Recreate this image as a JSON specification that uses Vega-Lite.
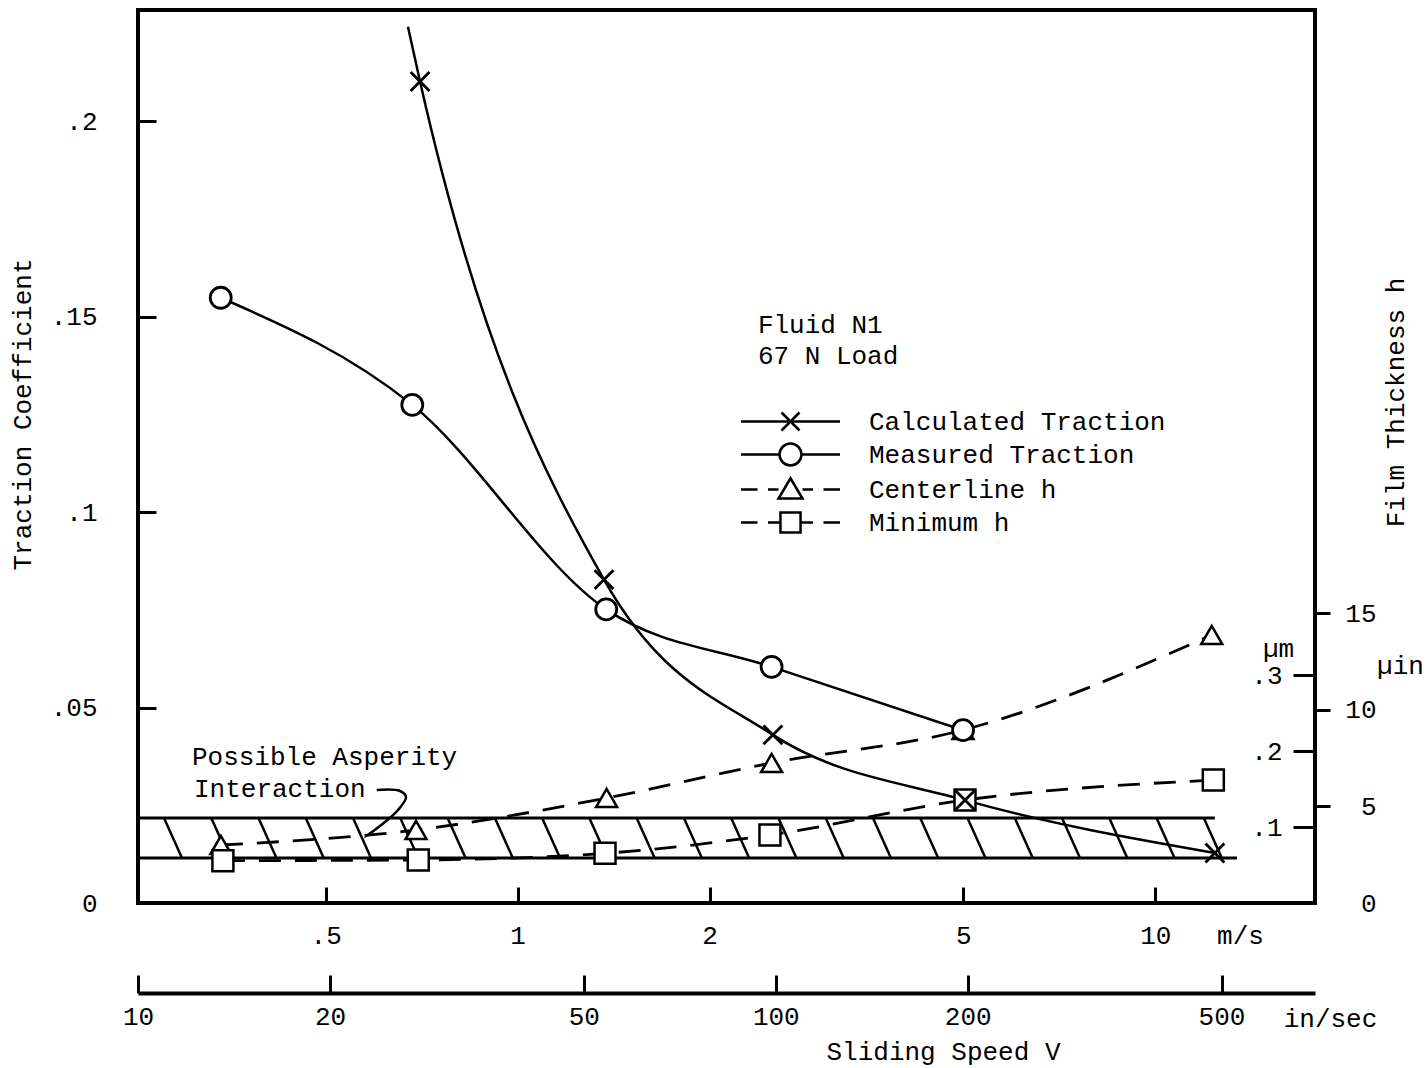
{
  "$schema": "https://vega.github.io/schema/vega-lite/v6.json",
  "width": 1177,
  "height": 893,
  "autosize": {"type": "none"},
  "padding": {"left": 138, "top": 10, "right": 113, "bottom": 165},
  "background": "white",
  "config": {
    "font": "Liberation Mono",
    "view": {"stroke": "black", "strokeWidth": 4},
    "axis": {
      "grid": false, "domain": false,
      "labelFont": "Liberation Mono", "labelFontSize": 26, "labelColor": "black",
      "titleFont": "Liberation Mono", "titleFontSize": 26, "titleFontWeight": "normal", "titleColor": "black",
      "tickColor": "black", "tickWidth": 3,
      "labelFlush": false, "labelOverlap": false, "labelBound": false
    }
  },
  "datasets": {
    "traction": [
      {"series": "Calculated Traction", "v": 0.673, "coef": 0.2241, "marker": false},
      {"series": "Calculated Traction", "v": 0.703, "coef": 0.2101, "marker": true},
      {"series": "Calculated Traction", "v": 1.366, "coef": 0.0827, "marker": true},
      {"series": "Calculated Traction", "v": 2.514, "coef": 0.0430, "marker": true},
      {"series": "Calculated Traction", "v": 5.03, "coef": 0.0263, "marker": true},
      {"series": "Calculated Traction", "v": 12.4, "coef": 0.0128, "marker": true},
      {"series": "Measured Traction", "v": 0.3423, "coef": 0.1548, "marker": true},
      {"series": "Measured Traction", "v": 0.6836, "coef": 0.1274, "marker": true},
      {"series": "Measured Traction", "v": 1.377, "coef": 0.0751, "marker": true},
      {"series": "Measured Traction", "v": 2.502, "coef": 0.0604, "marker": true},
      {"series": "Measured Traction", "v": 4.994, "coef": 0.0442, "marker": true}
    ],
    "film": [
      {"series": "Centerline h", "v": 0.3425, "h_um": 0.0763},
      {"series": "Centerline h", "v": 0.6929, "h_um": 0.0961},
      {"series": "Centerline h", "v": 1.379, "h_um": 0.1382},
      {"series": "Centerline h", "v": 2.502, "h_um": 0.1842},
      {"series": "Centerline h", "v": 4.994, "h_um": 0.2276},
      {"series": "Centerline h", "v": 12.26, "h_um": 0.3526},
      {"series": "Minimum h", "v": 0.345, "h_um": 0.0557},
      {"series": "Minimum h", "v": 0.6985, "h_um": 0.0566},
      {"series": "Minimum h", "v": 1.371, "h_um": 0.0654},
      {"series": "Minimum h", "v": 2.487, "h_um": 0.0895},
      {"series": "Minimum h", "v": 5.03, "h_um": 0.1355},
      {"series": "Minimum h", "v": 12.33, "h_um": 0.1618}
    ],
    "band": [
      {"edge": "top", "v1": 0.2539, "v2": 12.40, "coef": 0.02174},
      {"edge": "bottom", "v1": 0.2539, "v2": 13.43, "coef": 0.01151}
    ],
    "hatch": [
      {"v_top": 0.2789, "v_bottom": 0.2976, "coef_top": 0.02174, "coef_bottom": 0.01151},
      {"v_top": 0.3308, "v_bottom": 0.3530, "coef_top": 0.02174, "coef_bottom": 0.01151},
      {"v_top": 0.3923, "v_bottom": 0.4186, "coef_top": 0.02174, "coef_bottom": 0.01151},
      {"v_top": 0.4653, "v_bottom": 0.4965, "coef_top": 0.02174, "coef_bottom": 0.01151},
      {"v_top": 0.5519, "v_bottom": 0.5889, "coef_top": 0.02174, "coef_bottom": 0.01151},
      {"v_top": 0.6546, "v_bottom": 0.6986, "coef_top": 0.02174, "coef_bottom": 0.01151},
      {"v_top": 0.7765, "v_bottom": 0.8286, "coef_top": 0.02174, "coef_bottom": 0.01151},
      {"v_top": 0.9210, "v_bottom": 0.9828, "coef_top": 0.02174, "coef_bottom": 0.01151},
      {"v_top": 1.0924, "v_bottom": 1.1657, "coef_top": 0.02174, "coef_bottom": 0.01151},
      {"v_top": 1.2956, "v_bottom": 1.3826, "coef_top": 0.02174, "coef_bottom": 0.01151},
      {"v_top": 1.5368, "v_bottom": 1.6399, "coef_top": 0.02174, "coef_bottom": 0.01151},
      {"v_top": 1.8228, "v_bottom": 1.9451, "coef_top": 0.02174, "coef_bottom": 0.01151},
      {"v_top": 2.1620, "v_bottom": 2.3070, "coef_top": 0.02174, "coef_bottom": 0.01151},
      {"v_top": 2.5643, "v_bottom": 2.7364, "coef_top": 0.02174, "coef_bottom": 0.01151},
      {"v_top": 3.0415, "v_bottom": 3.2456, "coef_top": 0.02174, "coef_bottom": 0.01151},
      {"v_top": 3.6076, "v_bottom": 3.8496, "coef_top": 0.02174, "coef_bottom": 0.01151},
      {"v_top": 4.2789, "v_bottom": 4.5661, "coef_top": 0.02174, "coef_bottom": 0.01151},
      {"v_top": 5.0752, "v_bottom": 5.4158, "coef_top": 0.02174, "coef_bottom": 0.01151},
      {"v_top": 6.0197, "v_bottom": 6.4237, "coef_top": 0.02174, "coef_bottom": 0.01151},
      {"v_top": 7.1400, "v_bottom": 7.6191, "coef_top": 0.02174, "coef_bottom": 0.01151},
      {"v_top": 8.4688, "v_bottom": 9.0370, "coef_top": 0.02174, "coef_bottom": 0.01151},
      {"v_top": 10.045, "v_bottom": 10.719, "coef_top": 0.02174, "coef_bottom": 0.01151},
      {"v_top": 11.914, "v_bottom": 12.714, "coef_top": 0.02174, "coef_bottom": 0.01151}
    ],
    "notes": [
      {"text": "Fluid N1", "v": 2.381, "coef": 0.1478},
      {"text": "67 N Load", "v": 2.381, "coef": 0.1399},
      {"text": "Possible Asperity", "v": 0.3085, "coef": 0.03734},
      {"text": "Interaction", "v": 0.3108, "coef": 0.02916}
    ],
    "arrow": [
      {"i": 1, "v": 0.6012, "coef": 0.0289},
      {"i": 2, "v": 0.6539, "coef": 0.02865},
      {"i": 3, "v": 0.6683, "coef": 0.02711},
      {"i": 4, "v": 0.6493, "coef": 0.02379},
      {"i": 5, "v": 0.6194, "coef": 0.02072},
      {"i": 6, "v": 0.5824, "coef": 0.01739}
    ]
  },
  "resolve": {
    "scale": {"y": "independent", "shape": "independent"},
    "axis": {"x": "independent", "y": "independent"}
  },
  "layer": [
    {
      "data": {"name": "band"},
      "mark": {"type": "rule", "color": "black", "strokeWidth": 3},
      "encoding": {
        "x": {
          "field": "v1", "type": "quantitative",
          "scale": {"type": "log", "domain": [0.2539, 17.8], "nice": false},
          "axis": {
            "orient": "bottom", "values": [0.5, 1, 2, 5, 10],
            "labelExpr": "datum.value == 0.5 ? '.5' : format(datum.value, 'd')",
            "tickSize": -16, "labelPadding": 48, "labelBaseline": "middle",
            "title": "m/s", "titleX": 1102, "titleY": 32, "titleBaseline": "middle", "titleAlign": "center", "titleAngle": 0
          }
        },
        "x2": {"field": "v2"},
        "y": {
          "field": "coef", "type": "quantitative",
          "scale": {"domain": [0, 0.2284], "nice": false, "zero": false},
          "axis": {
            "orient": "left", "values": [0, 0.05, 0.1, 0.15, 0.2],
            "labelExpr": "datum.value == 0 ? '0' : replace(format(datum.value, '.2~f'), '0.', '.')",
            "tickSize": -18, "labelPadding": 59, "labelBaseline": "middle",
            "title": "Traction Coefficient", "titleX": -116, "titleY": 404, "titleAngle": 270,
            "titleBaseline": "middle", "titleAlign": "center"
          }
        }
      }
    },
    {
      "data": {"name": "hatch"},
      "mark": {"type": "rule", "color": "black", "strokeWidth": 2.5},
      "encoding": {
        "x": {
          "field": "v_top", "type": "quantitative",
          "scale": {"type": "log", "domain": [0.2539, 17.8], "nice": false},
          "axis": {
            "orient": "bottom", "offset": 90, "domain": true, "domainWidth": 4, "domainColor": "black",
            "values": [0.254, 0.508, 1.27, 2.54, 5.08, 12.7],
            "labelExpr": "format(datum.value * 39.37, 'd')",
            "tickSize": -18, "labelPadding": 41, "labelBaseline": "middle",
            "title": "in/sec", "titleX": 1192, "titleY": 25, "titleBaseline": "middle", "titleAlign": "center", "titleAngle": 0
          }
        },
        "x2": {"field": "v_bottom"},
        "y": {"field": "coef_top", "type": "quantitative", "scale": {"domain": [0, 0.2284], "nice": false, "zero": false}, "axis": null},
        "y2": {"field": "coef_bottom"}
      }
    },
    {
      "data": {"name": "traction"},
      "mark": {"type": "line", "color": "black", "strokeWidth": 2.5, "interpolate": "monotone"},
      "encoding": {
        "x": {
          "field": "v", "type": "quantitative",
          "scale": {"type": "log", "domain": [0.2539, 17.8], "nice": false},
          "axis": {
            "orient": "bottom", "offset": 90, "ticks": false, "labels": false, "domain": false,
            "title": "Sliding Speed V", "titleX": 805, "titleY": 58, "titleBaseline": "middle", "titleAlign": "center", "titleAngle": 0
          }
        },
        "y": {"field": "coef", "type": "quantitative", "scale": {"domain": [0, 0.2284], "nice": false, "zero": false}, "axis": null},
        "detail": {"field": "series"}
      }
    },
    {
      "data": {"name": "film"},
      "mark": {"type": "line", "color": "black", "strokeWidth": 2.8, "strokeDash": [22, 14], "interpolate": "monotone"},
      "encoding": {
        "x": {"field": "v", "type": "quantitative", "scale": {"type": "log", "domain": [0.2539, 17.8], "nice": false}, "axis": null},
        "y": {
          "field": "h_um", "type": "quantitative",
          "scale": {"domain": [0, 1.175], "nice": false, "zero": false},
          "axis": {
            "orient": "right", "values": [0.1, 0.2, 0.3],
            "labelExpr": "replace(format(datum.value, '.1f'), '0.', '.')",
            "tickSize": -22, "labelPadding": -11, "labelAlign": "right", "labelBaseline": "middle",
            "title": "µm", "titleX": -37, "titleY": 638, "titleAngle": 0, "titleBaseline": "middle", "titleAlign": "center"
          }
        },
        "detail": {"field": "series"}
      }
    },
    {
      "data": {"name": "film"},
      "mark": {"type": "point", "filled": true, "fill": "white", "stroke": "black", "strokeWidth": 2.5, "size": 440, "opacity": 1},
      "encoding": {
        "x": {"field": "v", "type": "quantitative", "scale": {"type": "log", "domain": [0.2539, 17.8], "nice": false}, "axis": null},
        "y": {
          "field": "h_um", "type": "quantitative",
          "scale": {"domain": [0, 1.175], "nice": false, "zero": false},
          "axis": {
            "orient": "right", "values": [0, 0.127, 0.254, 0.381],
            "labelExpr": "format(datum.value / 0.0254, 'd')",
            "tickSize": 15, "tickOpacity": {"condition": {"test": "datum.value == 0", "value": 0}, "value": 1},
            "labelPadding": 46, "labelAlign": "right", "labelBaseline": "middle",
            "title": "µin", "titleX": 85, "titleY": 655, "titleAngle": 0, "titleBaseline": "middle", "titleAlign": "center"
          }
        },
        "shape": {
          "field": "series", "type": "nominal",
          "scale": {"domain": ["Centerline h", "Minimum h"], "range": ["triangle-up", "square"]},
          "legend": null
        }
      }
    },
    {
      "data": {"name": "traction"},
      "transform": [{"filter": "datum.marker"}],
      "mark": {"type": "point", "filled": true, "fill": "white", "stroke": "black", "strokeWidth": 2.8, "size": 440, "opacity": 1},
      "encoding": {
        "x": {"field": "v", "type": "quantitative", "scale": {"type": "log", "domain": [0.2539, 17.8], "nice": false}, "axis": null},
        "y": {"field": "coef", "type": "quantitative", "scale": {"domain": [0, 0.2284], "nice": false, "zero": false}, "axis": null},
        "shape": {
          "field": "series", "type": "nominal",
          "scale": {"domain": ["Calculated Traction", "Measured Traction"], "range": ["M-0.9,-0.9L0.9,0.9M-0.9,0.9L0.9,-0.9", "circle"]},
          "legend": null
        }
      }
    },
    {
      "data": {"name": "film"},
      "transform": [{"filter": "datum.v < 0"}],
      "mark": {"type": "point", "filled": true, "fill": "white", "stroke": "black", "strokeWidth": 2.5, "opacity": 1},
      "encoding": {
        "x": {"field": "v", "type": "quantitative", "scale": {"type": "log", "domain": [0.2539, 17.8], "nice": false}, "axis": null},
        "y": {
          "field": "h_um", "type": "quantitative",
          "scale": {"domain": [0, 1.175], "nice": false, "zero": false},
          "axis": {
            "orient": "right", "ticks": false, "labels": false, "domain": false,
            "title": "Film Thickness h", "titleX": 80, "titleY": 392, "titleAngle": 270, "titleBaseline": "middle", "titleAlign": "center"
          }
        },
        "shape": {
          "field": "series", "type": "nominal",
          "scale": {
            "domain": ["Calculated Traction", "Measured Traction", "Centerline h", "Minimum h"],
            "range": [
              "M-3.3,0L3.3,0M-0.6,-0.6L0.6,0.6M-0.6,0.6L0.6,-0.6",
              "M-3.3,0L-0.73,0M0.73,0L3.3,0M-0.73,0A0.73,0.73,0,1,1,0.73,0A0.73,0.73,0,1,1,-0.73,0Z",
              "M-3.3,0L-2.2,0M-1.5,0L-0.8,0M0.8,0L1.5,0M2.2,0L3.3,0M0,-0.75L0.8,0.6L-0.8,0.6Z",
              "M-3.3,0L-2.2,0M-1.5,0L-0.67,0M0.67,0L1.5,0M2.2,0L3.3,0M-0.67,-0.67L0.67,-0.67L0.67,0.67L-0.67,0.67Z"
            ]
          },
          "legend": {
            "orient": "none", "legendX": 636, "legendY": 395, "title": null, "padding": 0,
            "symbolSize": 900, "symbolStrokeWidth": 2.5, "symbolOpacity": 1,
            "labelFont": "Liberation Mono", "labelFontSize": 26, "labelColor": "black", "labelOffset": 62, "labelLimit": 600,
            "rowPadding": 2,
            "encode": {
              "symbols": {
                "stroke": {"value": "black"},
                "fill": {"value": "white"},
                "strokeWidth": {"value": 2.5},
                "opacity": {"value": 1},
                "size": {"value": 900}
              }
            }
          }
        }
      }
    },
    {
      "data": {"name": "notes"},
      "mark": {"type": "text", "align": "left", "baseline": "middle", "font": "Liberation Mono", "fontSize": 26, "color": "black"},
      "encoding": {
        "x": {"field": "v", "type": "quantitative", "scale": {"type": "log", "domain": [0.2539, 17.8], "nice": false}, "axis": null},
        "y": {"field": "coef", "type": "quantitative", "scale": {"domain": [0, 0.2284], "nice": false, "zero": false}, "axis": null},
        "text": {"field": "text"}
      }
    },
    {
      "data": {"name": "arrow"},
      "mark": {"type": "line", "color": "black", "strokeWidth": 2.5, "interpolate": "catmull-rom"},
      "encoding": {
        "x": {"field": "v", "type": "quantitative", "scale": {"type": "log", "domain": [0.2539, 17.8], "nice": false}, "axis": null},
        "y": {"field": "coef", "type": "quantitative", "scale": {"domain": [0, 0.2284], "nice": false, "zero": false}, "axis": null},
        "order": {"field": "i"}
      }
    },
    {
      "data": {"name": "arrow"},
      "transform": [{"filter": "datum.i == 6"}],
      "mark": {"type": "point", "shape": "wedge", "filled": true, "color": "black", "size": 120, "angle": 232, "opacity": 1},
      "encoding": {
        "x": {"field": "v", "type": "quantitative", "scale": {"type": "log", "domain": [0.2539, 17.8], "nice": false}, "axis": null},
        "y": {"field": "coef", "type": "quantitative", "scale": {"domain": [0, 0.2284], "nice": false, "zero": false}, "axis": null}
      }
    }
  ]
}
